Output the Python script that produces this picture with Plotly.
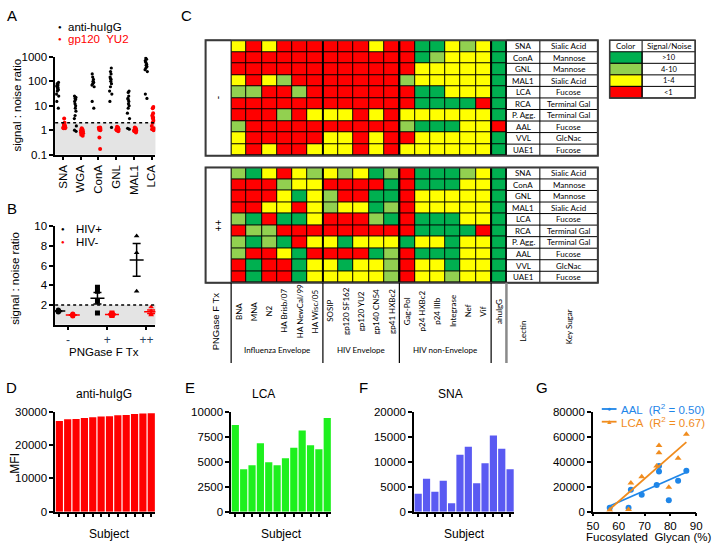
import numpy as np
import plotly.graph_objects as go

W, H = 712, 549
FONT = "Liberation Sans"
CFONT = "Lato"

# ---- A: signal:noise per lectin
a_lectins = ["SNA", "WGA", "ConA", "GNL", "MAL1", "LCA"]
a_igg = [
    [90, 80, 70, 65, 60, 55, 50, 45, 40, 30, 25, 15, 8],
    [25, 22, 20, 18, 15, 12, 10, 8, 6, 4, 3, 1.5, 1.0, 0.9],
    [200, 150, 120, 100, 90, 80, 70, 60, 15, 8],
    [350, 250, 200, 150, 130, 120, 100, 80, 60, 40, 30, 15, 1.3],
    [40, 35, 25, 20, 18, 15, 12, 10, 8, 5, 3, 1.2, 1.1],
    [900, 800, 700, 600, 500, 450, 400, 350, 300, 250, 30, 20],
]
a_yu2 = [
    [3.0, 2.0, 1.8, 1.7, 1.6, 1.5, 1.5, 1.4, 1.3, 1.3, 1.2, 1.2],
    [1.2, 1.1, 1.0, 1.0, 0.95, 0.9, 0.9, 0.85, 0.8, 0.75, 0.65, 0.6],
    [1.3, 1.25, 1.2, 1.2, 1.15, 1.1, 1.1, 1.05, 1.0, 0.5, 0.17],
    [1.4, 1.3, 1.25, 1.2, 1.15, 1.1, 1.05, 1.0, 0.9],
    [1.3, 1.2, 1.15, 1.1, 1.05, 1.0, 0.95, 0.9, 0.8],
    [9, 8, 5, 4, 3.5, 3.2, 3, 2.5, 2, 1.5, 1.2, 1.1, 1.0],
]

# ---- B: PNGase F treatment
b_groups = ["-", "+", "++"]
b_symbols = ["circle", "square", "triangle-up"]
b_hiv_pos = [[1.5, 1.45, 1.4, 1.35, 1.3], [3.8, 3.4, 2.4, 1.2], [9.0, 7.3, 3.4]]
b_hiv_neg = [[1.1, 1.05, 1.0, 0.95, 0.9], [1.2, 1.1, 1.05, 1.0, 0.95], [1.8, 1.4, 1.1, 1.0]]

# ---- C: heatmap (R <1, Y 1-4, L 4-10, G >10)
antigens = ["BNA", "MNA", "N2", "HA Brisb/07", "HA NewCal/99", "HA Wisc/05",
            "SOSIP", "gp120 SF162", "gp120 YU2", "gp140 CN54", "gp41 HXBc2",
            "Gag-Pol", "p24 HXBc2", "p24 IIIb", "Integrase", "Nef", "Vif", "ahuIgG"]
antigen_groups = ["Influenza Envelope", "HIV Envelope", "HIV non-Envelope"]
group_sizes = [6, 5, 6]
lectin_rows = ["SNA", "ConA", "GNL", "MAL1", "LCA", "RCA", "P. Agg.", "AAL", "VVL", "UAE1"]
key_sugar = ["Sialic Acid", "Mannose", "Mannose", "Sialic Acid", "Fucose",
             "Terminal Gal", "Terminal Gal", "Fucose", "GlcNac", "Fucose"]
heat_minus = ["YRYRRRRRRYRRGGYLYG", "RRRRRRRRRRRRGLYYYG", "RRRRRRRRRRRRYYYYYG",
              "YRYLRRRRRRRLYYYYYG", "LLRRLRRRRRRRGGYYYG", "RRRRRRRRRRRRGGGGRG",
              "RRRLRYYYRYRYYYYYYG", "LRRRRRRRRRRLGGGYYR", "YRRRRRYYRYRRYYYYYG",
              "YRYRRYYYRYRYYYYYYG"]
heat_plus = ["LGYRYLYLYGLRGGGLYG", "RRRLYYRRRRGRGGGYYG", "RRRYGYLRRGGRYYYYYG",
             "RRYYRYLYYGLRYYYYYG", "LGRGGYRRRLGRGGGYYG", "RLLRRRRRRRRRGGGGRG",
             "LGLGRYYGYYYGYYGYYG", "LRRYGRRRRGLRGGGYYG", "RGRRGYYGYYLRYYGYYG",
             "RGRRGYYYYYLRYYLYYG"]
sn_levels = [">10", "4-10", "1-4", "<1"]
sn_codes = ["G", "L", "Y", "R"]
code_val = {"R": 0, "Y": 1, "L": 2, "G": 3}
code_col = {"R": "#ff0000", "Y": "#ffff00", "L": "#92d050", "G": "#00b050"}

# ---- D-F: MFI per subject
subjects = list(range(1, 13))
mfi_igg = [27300, 27800, 27900, 28200, 28400, 28600, 28700, 29000, 29100, 29400, 29500, 29600]
mfi_lca = [8700, 4250, 4650, 6850, 4950, 4650, 5350, 6400, 8150, 6650, 6250, 9400]
mfi_sna = [3600, 6600, 4000, 6200, 1700, 11400, 13000, 5700, 9700, 15300, 12600, 8500]

# ---- G: fucosylation vs MFI
fuc_pct = [56.5, 63.8, 64.7, 68.9, 74.7, 75.6, 75.6, 79.4, 83.0, 86.2]
g_aal = [3100, 3100, 17600, 13600, 21500, 36700, 32300, 9200, 24900, 32800]
g_lca = [1300, 1800, 23100, 28100, 36700, 53000, 47200, 19700, 42800, 62200]


def xdom(a, b):
    return [a / W, b / W]


def ydom(top, bot):
    return [1 - bot / H, 1 - top / H]


def px(x):
    return x / W


def py(y):
    return 1 - y / H


fig = go.Figure()
shapes = []
notes = []


def txt(x, y, s, size=11.5, angle=0, color="black", xa="center", family=FONT, **kw):
    d = dict(x=px(x) if "xref" not in kw else x, y=py(y) if "yref" not in kw else y,
             xref="paper", yref="paper", text=s, showarrow=False, textangle=angle,
             xanchor=xa, yanchor="middle", font=dict(family=family, size=size, color=color))
    d.update(kw)
    notes.append(d)


def line(x0, y0, x1, y1, color="black", width=1, dash=None):
    shapes.append(dict(type="line", xref="paper", yref="paper", x0=px(x0), x1=px(x1),
                       y0=py(y0), y1=py(y1), line=dict(color=color, width=width, dash=dash)))


def rect(x0, y0, x1, y1, fill="white", color="black", width=1):
    shapes.append(dict(type="rect", xref="paper", yref="paper", x0=px(x0), x1=px(x1),
                       y0=py(y1), y1=py(y0), fillcolor=fill, line=dict(color=color, width=width)))


# ---------- A
for i, vals in enumerate(a_igg):
    fig.add_trace(go.Box(x=[i - 0.3] * len(vals), y=vals, width=0.2, boxpoints="all", jitter=0.8,
                         pointpos=0, marker=dict(color="black", size=3.2),
                         line=dict(width=0, color="rgba(0,0,0,0)"), fillcolor="rgba(0,0,0,0)",
                         showlegend=False, hoverinfo="y", xaxis="x", yaxis="y"))
for i, vals in enumerate(a_yu2):
    fig.add_trace(go.Box(x=[i + 0.08] * len(vals), y=vals, width=0.2, boxpoints="all", jitter=0.8,
                         pointpos=0, marker=dict(color="red", size=4),
                         line=dict(width=0, color="rgba(0,0,0,0)"), fillcolor="rgba(0,0,0,0)",
                         showlegend=False, hoverinfo="y", xaxis="x", yaxis="y"))
shapes.append(dict(type="rect", xref="x domain", yref="y", x0=0, x1=1, y0=0.1, y1=2,
                   fillcolor="#e4e4e4", line_width=0, layer="below"))
shapes.append(dict(type="line", xref="x domain", yref="y", x0=0, x1=1, y0=2, y1=2,
                   line=dict(color="black", width=1.5, dash="dot")))

# ---------- B
for vals_list, off, col in [(b_hiv_pos, -0.25, "black"), (b_hiv_neg, 0.12, "red")]:
    for g, vals in enumerate(vals_list):
        fig.add_trace(go.Scatter(x=[g + off] * len(vals), y=vals, mode="markers",
                                 marker=dict(color=col, size=5, symbol=b_symbols[g]),
                                 showlegend=False, xaxis="x2", yaxis="y2"))
        m = np.mean(vals)
        sem = np.std(vals, ddof=1) / np.sqrt(len(vals))
        fig.add_trace(go.Scatter(x=[g + off], y=[m], mode="markers",
                                 marker=dict(symbol="line-ew", size=10, line=dict(color=col, width=1.5)),
                                 error_y=dict(type="data", array=[sem], width=4, thickness=1.5, color=col),
                                 showlegend=False, xaxis="x2", yaxis="y2"))
shapes.append(dict(type="rect", xref="x2 domain", yref="y2", x0=0, x1=1, y0=0, y1=2,
                   fillcolor="#e4e4e4", line_width=0, layer="below"))
shapes.append(dict(type="line", xref="x2 domain", yref="y2", x0=0, x1=1, y0=2, y1=2,
                   line=dict(color="black", width=1.5, dash="dot")))

# ---------- C heatmaps
cscale = [[0, code_col["R"]], [0.25, code_col["R"]], [0.25, code_col["Y"]], [0.5, code_col["Y"]],
          [0.5, code_col["L"]], [0.75, code_col["L"]], [0.75, code_col["G"]], [1, code_col["G"]]]
HX0, HX1 = 229, 509
CELL = (HX1 - HX0) / len(antigens)
ROW_H = 11.8
blocks = [(35, heat_minus, "x3", "y3", "-"), (165, heat_plus, "x4", "y4", "++")]
for y0, rows, xa, ya, lab in blocks:
    z = [[code_val[c] for c in r] for r in rows]
    fig.add_trace(go.Heatmap(z=z, x=list(range(len(antigens))), y=list(range(len(lectin_rows))),
                             zmin=-0.5, zmax=3.5, colorscale=cscale, showscale=False,
                             xgap=1, ygap=1, hoverinfo="skip", xaxis=xa, yaxis=ya))
    shapes.append(dict(type="rect", xref=xa + " domain", yref=ya + " domain", x0=0, x1=1, y0=0, y1=1,
                       fillcolor="black", line_width=0, layer="below"))
    y1 = y0 + ROW_H * len(lectin_rows)
    rect(203, y0, HX0, y1)
    rect(HX1, y0, 602, y1)
    for k in range(1, len(lectin_rows)):
        line(HX1, y0 + ROW_H * k, 602, y0 + ROW_H * k)
    line(543, y0, 543, y1)
    edge = 0
    for n in group_sizes:
        edge += n
        line(HX0 + CELL * edge, y0, HX0 + CELL * edge, y1, width=2)
    rect(203, y0, 602, y1, fill="rgba(0,0,0,0)", color="#3a3a3a", width=2)
    txt(216, (y0 + y1) / 2, lab, size=10, angle=-90)
    for k, (lec, sug) in enumerate(zip(lectin_rows, key_sugar)):
        yc = y0 + ROW_H * (k + 0.5)
        txt(526, yc, lec, size=8, family=CFONT)
        txt(572.5, yc, sug, size=8, family=CFONT)

# labels under bottom heatmap
for i, name in enumerate(antigens):
    txt(i, 312, name, size=8, angle=-90, family=CFONT, xref="x4")
start = 0
for gname, n in zip(antigen_groups, group_sizes):
    txt(start + (n - 1) / 2, 352, gname, size=8, family=CFONT, xref="x4")
    start += n
edge = 0
line(HX0, 283, HX0, 365, width=1.2)
for n in group_sizes:
    edge += n
    line(HX0 + CELL * edge, 283, HX0 + CELL * edge, 365, width=1.2)
line(HX1, 283, HX1, 365, color="#8a8a8a", width=2.5)
txt(214, 322, "PNGase F Tx", size=9.5, angle=-90)
txt(526, 333, "Lectin", size=8, angle=-90, family=CFONT)
txt(572, 328, "Key Sugar", size=8, angle=-90, family=CFONT)

# colour key table
LX0, LXM, LX1, LY0 = 614, 647, 701, 35
rect(LX0, LY0, LX1, LY0 + ROW_H * 5)
for k, (lvl, code) in enumerate(zip(sn_levels, sn_codes)):
    yt = LY0 + ROW_H * (k + 1)
    rect(LX0, yt, LXM, yt + ROW_H, fill=code_col[code])
    line(LXM, yt, LX1, yt)
    txt((LXM + LX1) / 2, yt + ROW_H / 2, lvl, size=7.5, family=CFONT)
line(LXM, LY0, LXM, LY0 + ROW_H * 5)
rect(LX0, LY0, LX1, LY0 + ROW_H * 5, fill="rgba(0,0,0,0)", color="#3a3a3a", width=1.5)
txt((LX0 + LXM) / 2, LY0 + ROW_H / 2, "Color", size=8, family=CFONT)
txt((LXM + LX1) / 2, LY0 + ROW_H / 2, "Signal/Noise", size=8, family=CFONT)

# ---------- D-F bars
for vals, col, xa, ya in [(mfi_igg, "#ff0000", "x5", "y5"), (mfi_lca, "#1ef01e", "x6", "y6"),
                          (mfi_sna, "#5a5af2", "x7", "y7")]:
    fig.add_trace(go.Bar(x=subjects, y=vals, marker=dict(color=col, line_width=0),
                         showlegend=False, xaxis=xa, yaxis=ya))

# ---------- G scatter + fits
for vals, col, sym in [(g_aal, "#1f86e8", "circle"), (g_lca, "#f08c1e", "triangle-up")]:
    fig.add_trace(go.Scatter(x=fuc_pct, y=vals, mode="markers", marker=dict(color=col, size=6, symbol=sym),
                             showlegend=False, xaxis="x8", yaxis="y8"))
    slope, icpt = np.polyfit(fuc_pct, vals, 1)
    xs = np.array([min(fuc_pct), max(fuc_pct)])
    fig.add_trace(go.Scatter(x=xs, y=slope * xs + icpt, mode="lines", line=dict(color=col, width=1.8),
                             showlegend=False, xaxis="x8", yaxis="y8"))
for yy, col, sym, lab in [(412, "#1f86e8", "●", "AAL  (R<sup>2</sup> = 0.50)"),
                          (425, "#f08c1e", "▲", "LCA  (R<sup>2</sup> = 0.67)")]:
    line(606, yy, 621, yy, color=col, width=1.8)
    txt(613.5, yy, sym, size=7, color=col)
    txt(624, yy, lab, size=11.5, color=col, xa="left")

# ---------- text
for s, x, y in [("A", 6, 10), ("B", 6, 207), ("C", 184, 10), ("D", 6, 390), ("E", 187, 390),
                ("F", 364, 390), ("G", 545, 390)]:
    txt(x, y, s, size=15)
txt(55, 21, "●", size=6)
txt(61, 21, "anti-huIgG", xa="left")
txt(55, 34, "●", size=6, color="red")
txt(61, 34, "gp120  YU2", xa="left", color="red")
txt(58, 228, "●", size=6)
txt(69, 228, "HIV+", xa="left")
txt(58, 241, "●", size=6, color="red")
txt(69, 241, "HIV-", xa="left")
txt(11, 101, "signal : noise ratio", angle=-90)
txt(9, 278, "signal : noise ratio", angle=-90)
txt(100, 354, "PNGase F Tx")
txt(100, 397, "anti-huIgG", size=12)
txt(262, 397, "LCA", size=12)
txt(452, 397, "SNA", size=12)
txt(9, 467, "MFI", angle=-90, size=12)
for x in (105, 280, 466):
    txt(x, 540, "Subject", size=12)
txt(654, 543, "Fucosylated  Glycan (%)", size=11.5)

axis = dict(showline=True, linecolor="black", linewidth=1.5, ticks="outside", ticklen=4,
            tickwidth=1.5, tickcolor="black", showgrid=False, zeroline=False, fixedrange=True,
            tickfont=dict(family=FONT, size=11.5, color="black"))
hide = dict(visible=False, fixedrange=True)
bar_x = dict(axis, range=[0.5, 12.5], tickvals=subjects, showticklabels=False)

fig.update_layout(
    width=W, height=H, margin=dict(l=0, r=0, t=0, b=0),
    paper_bgcolor="white", plot_bgcolor="white", showlegend=False,
    bargap=0.14, boxmode="overlay",
    xaxis=dict(axis, domain=xdom(50, 152), range=[-0.44, 5.22], tickvals=list(range(6)),
               ticktext=a_lectins, tickangle=-90, anchor="y"),
    yaxis=dict(axis, domain=ydom(52, 152), type="log", range=[-1, 3],
               tickvals=[0.1, 1, 10, 100, 1000], ticktext=["0.1", "1", "10", "100", "1000"], anchor="x"),
    xaxis2=dict(axis, domain=xdom(50, 152), range=[-0.33, 2.23], tickvals=[0, 1, 2], ticklen=3,
                ticktext=b_groups, tickfont=dict(family=FONT, size=12), anchor="y2"),
    yaxis2=dict(axis, domain=ydom(225, 326), range=[0, 10], tickvals=[2, 4, 6, 8, 10], anchor="x2"),
    xaxis3=dict(hide, domain=xdom(HX0, HX1), range=[-0.5, 17.5], anchor="y3"),
    yaxis3=dict(hide, domain=ydom(35, 35 + ROW_H * 10), range=[9.5, -0.5], anchor="x3"),
    xaxis4=dict(hide, domain=xdom(HX0, HX1), range=[-0.5, 17.5], anchor="y4"),
    yaxis4=dict(hide, domain=ydom(165, 165 + ROW_H * 10), range=[9.5, -0.5], anchor="x4"),
    xaxis5=dict(bar_x, domain=xdom(50, 152), anchor="y5"),
    yaxis5=dict(axis, domain=ydom(415, 517), range=[0, 30000], dtick=10000, tickformat="d", anchor="x5"),
    xaxis6=dict(bar_x, domain=xdom(229, 331), anchor="y6"),
    yaxis6=dict(axis, domain=ydom(415, 517), range=[0, 10000], dtick=2500, tickformat="d", anchor="x6"),
    xaxis7=dict(bar_x, domain=xdom(415, 517), anchor="y7"),
    yaxis7=dict(axis, domain=ydom(415, 517), range=[0, 20000], dtick=5000, tickformat="d", anchor="x7"),
    xaxis8=dict(axis, domain=xdom(597, 702), range=[50, 90], dtick=10, ticklen=3, anchor="y8"),
    yaxis8=dict(axis, domain=ydom(415, 517), range=[0, 80000], dtick=20000, tickformat="d", anchor="x8"),
    shapes=shapes, annotations=notes,
)

# page body has a default margin; drop it so the figure sits at the window origin
fig.write_html("out.html", config={"displayModeBar": False},
               post_script="document.body.style.margin='0';")
